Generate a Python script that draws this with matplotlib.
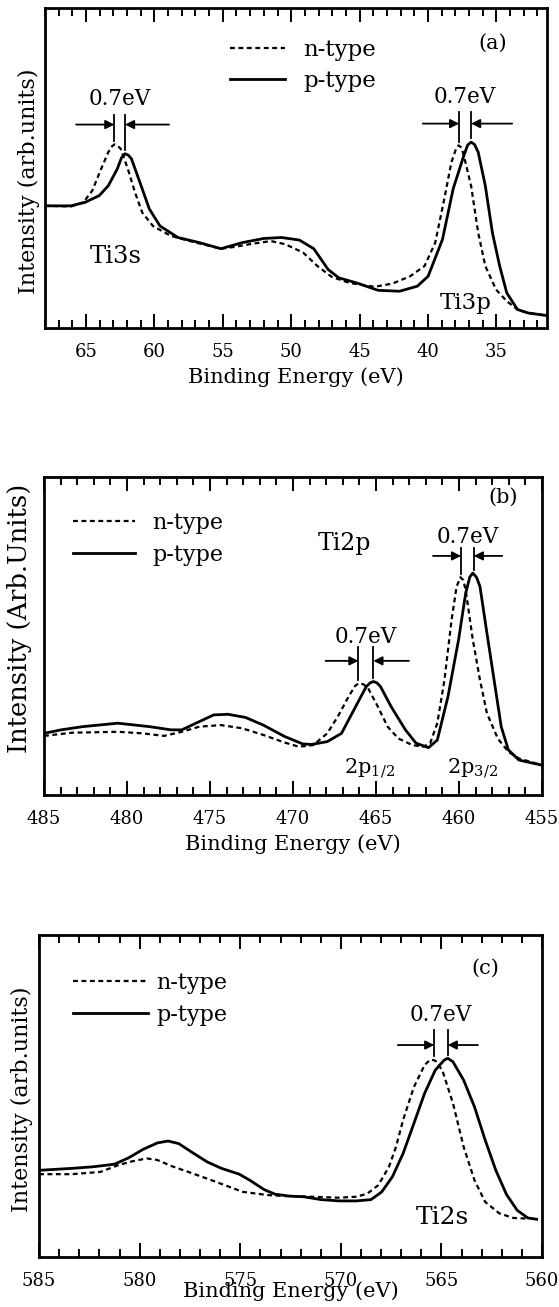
"""XPS core-level spectra of n- and p-type samples: Ti3s/Ti3p, Ti2p, Ti2s."""

import matplotlib
matplotlib.use("Agg")
import matplotlib.pyplot as plt
from matplotlib.ticker import MultipleLocator

plt.rcParams["font.family"] = ["DejaVu Serif"]
plt.rcParams["mathtext.fontset"] = "dejavuserif"

# ---- panel (a): Ti3s / Ti3p -------------------------------------------------
a_n_x = [68.0, 66.1, 65.2, 64.55, 63.9, 63.37, 63.1, 62.93, 62.7, 62.46, 61.94,
         61.42, 60.89, 60.11, 58.8, 56.97, 55.14, 54.1, 53.05, 51.49, 50.44,
         49.13, 48.09, 47.04, 45.74, 43.91, 42.6, 41.3, 40.25, 39.47, 38.81,
         38.29, 37.95, 37.77, 37.55, 37.38, 36.85, 36.33, 35.81, 35.02, 34.24,
         33.46, 32.67, 31.3]
a_n_y = [38.2, 38.0, 39.3, 42.9, 49.7, 55.0, 56.8, 57.4, 57.0, 56.0, 49.7,
         42.4, 36.1, 31.9, 28.8, 26.7, 24.8, 25.4, 26.2, 27.2, 26.2,
         23.6, 19.4, 16.0, 14.1, 12.9, 13.9, 16.2, 19.4, 26.7, 40.3,
         51.8, 56.0, 57.1, 56.4, 53.9, 44.5, 29.8, 19.4, 12.0, 8.4,
         5.8, 4.7, 3.9]
a_p_x = [68.0, 66.1, 65.07, 64.03, 63.37, 62.72, 62.4, 62.15, 61.9, 61.68,
         61.15, 60.37, 59.59, 58.28, 56.71, 55.14, 53.58, 52.0, 50.7, 49.4,
         48.35, 47.3, 46.52, 45.21, 43.65, 42.08, 40.77, 39.99, 38.94, 38.16,
         37.38, 37.1, 36.85, 36.6, 36.33, 35.81, 35.29, 34.76, 34.24, 33.46,
         32.67, 31.3]
a_p_y = [38.2, 38.2, 39.3, 41.4, 44.5, 49.7, 53.3, 54.5, 54.0, 52.9,
         46.6, 37.2, 31.9, 28.3, 26.7, 24.8, 26.7, 28.0, 28.3, 27.5,
         24.8, 18.3, 15.7, 14.1, 11.8, 11.5, 13.1, 16.2, 27.7, 43.5,
         53.9, 57.2, 58.1, 57.4, 55.0, 44.5, 29.8, 19.4, 11.0, 5.8,
         4.7, 3.9]

# ---- panel (b): Ti2p --------------------------------------------------------
b_n_x = [485.0, 483.33, 480.55, 479.06, 477.77, 476.70, 475.64, 474.35,
         473.07, 471.79, 470.50, 469.65, 468.79, 467.94, 467.30, 466.65,
         466.25, 466.01, 465.75, 465.48, 464.94, 464.30, 463.66, 462.81,
         462.16, 461.74, 461.31, 460.88, 460.45, 460.15, 459.92, 459.75,
         459.60, 459.17, 458.74, 458.32, 457.67, 457.03, 456.39, 455.0]
b_n_y = [18.6, 19.6, 19.9, 19.4, 18.6, 19.9, 21.5, 22.0,
         21.0, 18.9, 16.5, 15.2, 15.7, 19.4, 24.7, 31.0,
         34.4, 35.2, 34.8, 33.6, 28.3, 21.5, 17.8, 15.7,
         15.2, 16.3, 22.6, 36.2, 55.1, 65.5, 68.5, 67.6,
         64.5, 48.8, 36.2, 25.7, 17.8, 13.6, 11.5, 9.4]
b_p_x = [485.0, 483.97, 482.69, 480.55, 478.63, 477.35, 476.70, 475.64,
         474.78, 473.92, 472.86, 471.79, 470.50, 469.43, 468.90, 467.94,
         467.08, 466.23, 465.59, 465.35, 465.16, 464.95, 464.73, 464.09,
         463.23, 462.59, 461.84, 461.31, 460.67, 460.03, 459.60, 459.35,
         459.17, 458.95, 458.74, 458.32, 457.89, 457.46, 457.03, 456.39,
         455.54, 455.0]
b_p_y = [19.4, 20.5, 21.5, 22.6, 21.5, 20.5, 20.5, 23.1,
         25.2, 25.4, 24.4, 22.0, 18.4, 16.1, 15.9, 16.8,
         19.4, 27.8, 34.1, 35.3, 35.7, 35.3, 34.1, 27.8,
         20.5, 16.3, 14.9, 17.3, 30.9, 48.8, 63.5, 68.6,
         69.8, 68.5, 65.6, 50.9, 36.2, 21.5, 14.2, 11.0,
         10.0, 9.4]

# ---- panel (c): Ti2s --------------------------------------------------------
c_n_x = [585.0, 583.37, 581.95, 581.07, 580.36, 579.65, 579.12, 578.41,
         577.35, 576.29, 574.87, 573.63, 572.75, 571.51, 570.09, 569.21,
         568.68, 568.14, 567.61, 567.26, 566.91, 566.37, 565.84, 565.6,
         565.49, 565.3, 564.96, 564.43, 563.90, 563.36, 562.83, 562.12,
         561.42, 560.71]
c_n_y = [25.7, 25.7, 26.4, 28.5, 29.7, 30.6, 30.1, 28.2,
         25.9, 23.5, 20.2, 19.2, 18.9, 18.7, 18.4, 18.7,
         19.7, 22.3, 28.0, 34.2, 42.5, 52.8, 59.6, 61.0,
         61.3, 60.9, 58.0, 47.7, 34.2, 23.8, 17.1, 13.5,
         12.1, 11.9]
c_p_x = [585.0, 583.37, 582.31, 581.25, 580.54, 579.83, 579.12, 578.59,
         578.06, 577.35, 576.64, 575.93, 575.05, 574.52, 573.81, 573.28,
         572.57, 571.86, 570.98, 570.09, 569.21, 568.50, 567.97, 567.44,
         566.91, 566.37, 565.84, 565.31, 564.87, 564.69, 564.43, 563.90,
         563.36, 562.83, 562.30, 561.77, 561.24, 560.71, 560.27]
c_p_y = [26.9, 27.5, 28.0, 28.8, 30.8, 33.4, 35.4, 36.0,
         35.2, 32.3, 29.5, 27.5, 25.7, 23.8, 20.9, 19.5,
         18.9, 18.7, 17.8, 17.4, 17.4, 17.8, 20.2, 24.9,
         32.1, 41.5, 50.8, 58.0, 61.1, 61.7, 60.6, 54.9,
         46.6, 36.3, 26.9, 19.4, 14.5, 12.1, 11.7]

# 0.7 eV shift markers: (x_n, x_p, y_n, y_p, y_top, y_arrow, tail_l, tail_r, label_y)
a_shifts = [(62.93, 62.15, 58.5, 55.8, 66.5, 63.6, 65.73, 58.93, 71.7),
            (37.72, 36.85, 58.3, 59.3, 67.5, 63.9, 40.38, 33.85, 72.3)]
b_shifts = [(459.88, 459.11, 69.6, 70.9, 77.6, 75.2, 461.57, 457.40, 81.3),
            (466.06, 465.16, 36.3, 36.8, 46.7, 42.2, 468.04, 463.02, 49.8)]
c_shifts = [(565.36, 564.69, 62.4, 62.8, 70.5, 65.8, 567.17, 563.19, 75.1)]


def draw_shift(ax, xn, xp, yn, yp, ytop, yarr, tail_l, tail_r, label_y):
    ax.plot([xn, xn], [yn, ytop], color="k", lw=1.3)
    ax.plot([xp, xp], [yp, ytop], color="k", lw=1.3)
    arrow = dict(arrowstyle="-|>", color="k", lw=1.3, mutation_scale=13,
                 shrinkA=0, shrinkB=0)
    ax.annotate("", xy=(xn, yarr), xytext=(tail_l, yarr), arrowprops=arrow)
    ax.annotate("", xy=(xp, yarr), xytext=(tail_r, yarr), arrowprops=arrow)
    ax.text((xn + xp) / 2, label_y, "0.7eV", ha="center", va="center",
            fontsize=15.5)


def style_axes(ax, xlim, ticks, ylabel, ylabel_xy, ylabel_size):
    ax.set_xlim(*xlim)
    ax.set_ylim(0, 100)
    ax.set_xticks(ticks)
    ax.xaxis.set_minor_locator(MultipleLocator(1))
    ax.set_yticks([])
    ax.tick_params(axis="x", which="both", direction="in", top=True,
                   labelsize=13, width=1.4, pad=10.5)
    ax.tick_params(axis="x", which="major", length=10)
    ax.tick_params(axis="x", which="minor", length=6)
    for s in ax.spines.values():
        s.set_linewidth(2)
    ax.set_ylabel(ylabel, fontsize=ylabel_size)
    ax.yaxis.set_label_coords(*ylabel_xy)


fig = plt.figure(figsize=(5.59, 13.07), dpi=100)
ax_a = fig.add_axes([0.0805, 0.749, 0.898, 0.2448])
ax_b = fig.add_axes([0.0787, 0.3917, 0.891, 0.2433])
ax_c = fig.add_axes([0.0698, 0.0383, 0.900, 0.2464])

dash = (0, (2.2, 1.6))

# (a)
ax_a.plot(a_n_x, a_n_y, color="k", lw=1.6, ls=dash, label="n-type")
ax_a.plot(a_p_x, a_p_y, color="k", lw=2.0, label="p-type")
style_axes(ax_a, (68, 31.3), [65, 60, 55, 50, 45, 40, 35],
           "Intensity (arb.units)", (-0.01, 0.46), 16)
ax_a.set_xlabel("Binding Energy (eV)", fontsize=15, labelpad=5)
for sh in a_shifts:
    draw_shift(ax_a, *sh)
ax_a.text(62.85, 22.5, "Ti3s", ha="center", va="center", fontsize=17.5)
ax_a.text(37.25, 7.9, "Ti3p", ha="center", va="center", fontsize=16.5)
ax_a.text(35.3, 89, "(a)", ha="center", va="center", fontsize=15)
ax_a.legend(loc="upper left", bbox_to_anchor=(0.345, 0.94), frameon=False,
            fontsize=16.5, handlelength=2.4, handletextpad=0.8,
            labelspacing=0.4, borderpad=0)

# (b)
ax_b.plot(b_n_x, b_n_y, color="k", lw=1.6, ls=dash, label="n-type")
ax_b.plot(b_p_x, b_p_y, color="k", lw=2.0, label="p-type")
style_axes(ax_b, (485, 455), [485, 480, 475, 470, 465, 460, 455],
           "Intensity (Arb.Units)", (-0.024, 0.556), 18.5)
ax_b.set_xlabel("Binding Energy (eV)", fontsize=15, labelpad=5)
for sh in b_shifts:
    draw_shift(ax_b, *sh)
ax_b.text(466.87, 79.2, "Ti2p", ha="center", va="center", fontsize=17)
ax_b.text(465.37, 8.4, "2p$_{1/2}$", ha="center", va="center", fontsize=15)
ax_b.text(459.21, 8.4, "2p$_{3/2}$", ha="center", va="center", fontsize=15)
ax_b.text(457.35, 93.5, "(b)", ha="center", va="center", fontsize=15)
ax_b.legend(loc="upper left", bbox_to_anchor=(0.035, 0.925), frameon=False,
            fontsize=16, handlelength=2.8, handletextpad=0.8,
            labelspacing=0.45, borderpad=0)

# (c)
ax_c.plot(c_n_x, c_n_y, color="k", lw=1.6, ls=dash, label="n-type")
ax_c.plot(c_p_x, c_p_y, color="k", lw=2.0, label="p-type")
style_axes(ax_c, (585, 560), [585, 580, 575, 570, 565, 560],
           "Intensity (arb.units)", (-0.012, 0.49), 16)
ax_c.set_xlabel("Binding Energy (eV)", fontsize=15, labelpad=-6)
for sh in c_shifts:
    draw_shift(ax_c, *sh)
ax_c.text(564.96, 12.4, "Ti2s", ha="center", va="center", fontsize=18)
ax_c.text(562.83, 89.6, "(c)", ha="center", va="center", fontsize=15)
ax_c.legend(loc="upper left", bbox_to_anchor=(0.045, 0.92), frameon=False,
            fontsize=16, handlelength=3.4, handletextpad=0.35,
            labelspacing=0.45, borderpad=0)

fig.savefig("out.png", dpi=100)
